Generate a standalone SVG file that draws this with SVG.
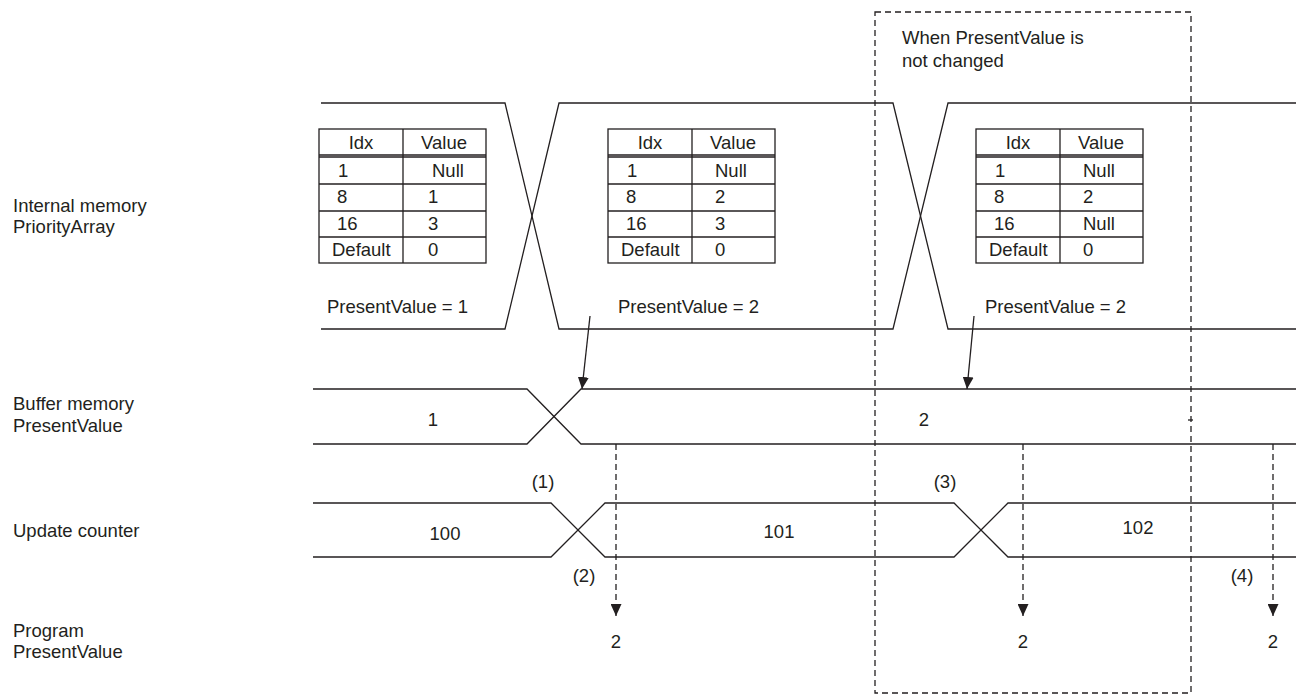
<svg xmlns="http://www.w3.org/2000/svg" width="1296" height="696" viewBox="0 0 1296 696">
<style>
text{font-family:"Liberation Sans",Arial,sans-serif;font-size:18.5px;fill:#231f20}
.m{text-anchor:middle}
.ln{fill:none;stroke:#231f20;stroke-width:1.3}
.ds{fill:none;stroke:#231f20;stroke-width:1.3;stroke-dasharray:6,4}
.tb{fill:#fff;stroke:#231f20;stroke-width:1.3}
</style>
<defs>
<marker id="ah" viewBox="0 0 12 11" refX="12" refY="5.5" markerWidth="12" markerHeight="11" markerUnits="userSpaceOnUse" orient="auto">
<path d="M0,0 L12,5.5 L0,11 Z" fill="#231f20"/>
</marker>
<g id="tbl">
<rect class="tb" x="0" y="0" width="167" height="134"/>
<line class="ln" x1="84" y1="0" x2="84" y2="134"/>
<line class="ln" x1="0" y1="26" x2="167" y2="26"/>
<line class="ln" x1="0" y1="28" x2="167" y2="28"/>
<line class="ln" x1="0" y1="55" x2="167" y2="55"/>
<line class="ln" x1="0" y1="82" x2="167" y2="82"/>
<line class="ln" x1="0" y1="108" x2="167" y2="108"/>
<text class="m" x="42" y="20">Idx</text>
<text class="m" x="125" y="20">Value</text>
<text x="19" y="48">1</text>
<text x="18" y="74">8</text>
<text x="18" y="101">16</text>
<text x="13" y="127">Default</text>
</g>
</defs>

<g id="labels">
<text x="13" y="212">Internal memory</text>
<text x="13" y="233">PriorityArray</text>
<text x="13" y="410">Buffer memory</text>
<text x="13" y="432">PresentValue</text>
<text x="13" y="537">Update counter</text>
<text x="13" y="637">Program</text>
<text x="13" y="658">PresentValue</text>
</g>

<g id="priority-array">
<path class="ln" d="M321,103 H505 L559,329 H893 L948,103 H1296"/>
<path class="ln" d="M321,329 H505 L559,103 H893 L948,329 H1296"/>
</g>

<g id="table1">
<use href="#tbl" x="319" y="129"/>
<text x="432" y="177">Null</text>
<text x="428" y="203">1</text>
<text x="428" y="230">3</text>
<text x="428" y="256">0</text>
<text x="327" y="313">PresentValue = 1</text>
</g>
<g id="table2">
<use href="#tbl" x="608" y="129"/>
<text x="715" y="177">Null</text>
<text x="715" y="203">2</text>
<text x="715" y="230">3</text>
<text x="715" y="256">0</text>
<text x="618" y="313">PresentValue = 2</text>
</g>
<g id="table3">
<use href="#tbl" x="976" y="129"/>
<text x="1083" y="177">Null</text>
<text x="1083" y="203">2</text>
<text x="1083" y="230">Null</text>
<text x="1083" y="256">0</text>
<text x="985" y="313">PresentValue = 2</text>
</g>

<g id="buffer-memory">
<path class="ln" d="M313,389 H527 L581,444 H1296"/>
<path class="ln" d="M313,444 H527 L581,389 H1296"/>
<text class="m" x="433" y="426">1</text>
<text class="m" x="924" y="426">2</text>
<line class="ln" x1="1188" y1="420" x2="1193" y2="420"/>
</g>

<g id="update-counter">
<path class="ln" d="M313,503 H551 L605,557 H954 L1008,503 H1296"/>
<path class="ln" d="M313,557 H551 L605,503 H954 L1008,557 H1296"/>
<text class="m" x="445" y="540">100</text>
<text class="m" x="779" y="538">101</text>
<text class="m" x="1138" y="534">102</text>
<text class="m" x="543" y="488">(1)</text>
<text class="m" x="584" y="582">(2)</text>
<text class="m" x="945" y="488">(3)</text>
<text class="m" x="1242" y="582">(4)</text>
</g>

<g id="program">
<text class="m" x="616" y="648">2</text>
<text class="m" x="1023" y="648">2</text>
<text class="m" x="1273" y="648">2</text>
</g>

<g id="note">
<rect class="ds" x="875" y="12" width="316" height="681"/>
<text x="902" y="44">When PresentValue is</text>
<text x="902" y="67">not changed</text>
</g>

<g id="connectors">
<line class="ln" x1="590" y1="316" x2="582" y2="389" marker-end="url(#ah)"/>
<line class="ln" x1="974" y1="316" x2="967" y2="389" marker-end="url(#ah)"/>
<line class="ds" x1="616" y1="444" x2="616" y2="616" marker-end="url(#ah)"/>
<line class="ds" x1="1023" y1="444" x2="1023" y2="616" marker-end="url(#ah)"/>
<line class="ds" x1="1273" y1="444" x2="1273" y2="616" marker-end="url(#ah)"/>
</g>
</svg>
